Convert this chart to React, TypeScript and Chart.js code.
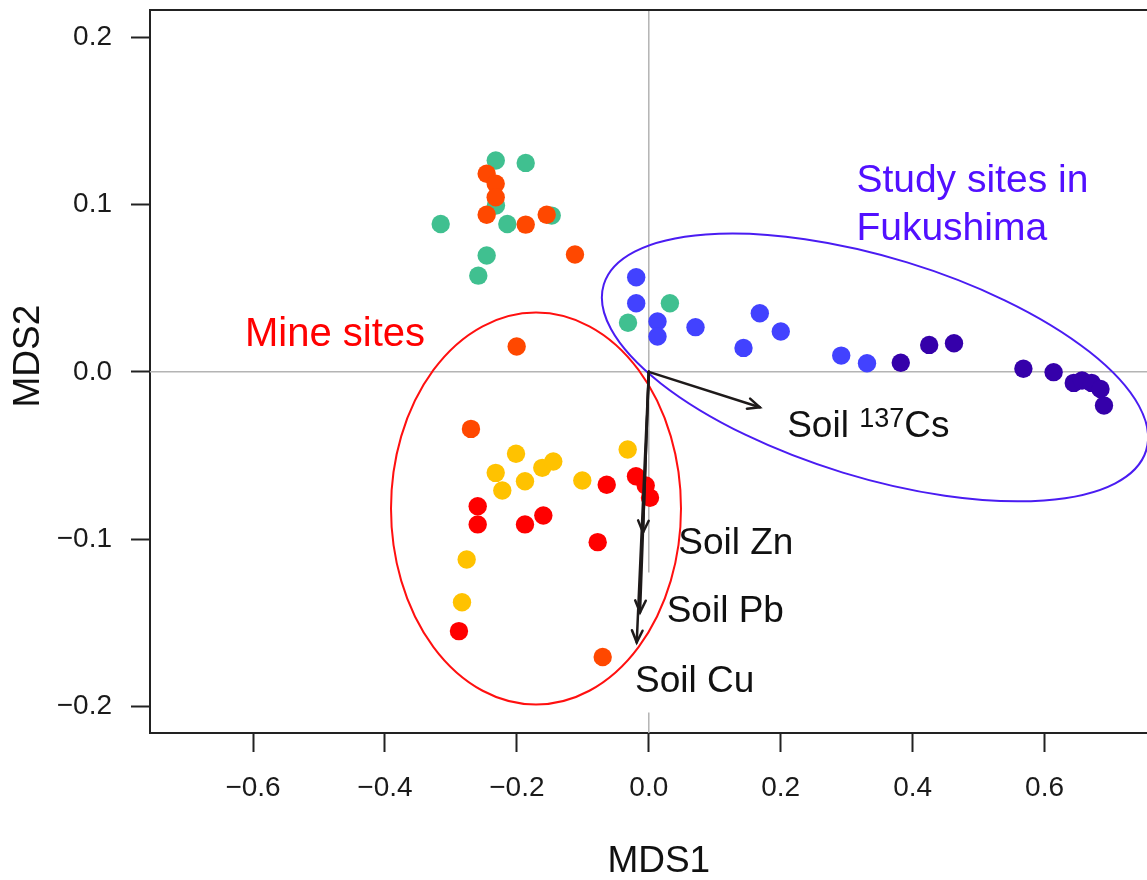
import React, { useEffect, useRef } from 'react';
import { Chart, registerables } from 'chart.js';

Chart.register(...registerables);

const FONT = '"Liberation Sans", Arial, Helvetica, sans-serif';

// Axis ticks
const xTicks = [-0.6, -0.4, -0.2, 0, 0.2, 0.4, 0.6];
const yTicks = [-0.2, -0.1, 0, 0.1, 0.2];

// Site groups (MDS1 / MDS2 scores)
const greenX = [-0.232, -0.1866, -0.3155, -0.2145, -0.1472, -0.2458, -0.2585, -0.2317, -0.0315, 0.032];
const greenY = [0.1263, 0.1249, 0.0884, 0.0884, 0.0934, 0.0695, 0.0575, 0.0994, 0.0293, 0.041];

const orangeX = [-0.2458, -0.2321, -0.2321, -0.2458, -0.1866, -0.1548, -0.1119, -0.2003, -0.2696, -0.0699];
const orangeY = [0.1184, 0.1124, 0.1043, 0.0939, 0.088, 0.0939, 0.0701, 0.0151, -0.0341, -0.1705];

const yellowX = [-0.2013, -0.2321, -0.2221, -0.1877, -0.1615, -0.1448, -0.1008, -0.032, -0.2761, -0.2832];
const yellowY = [-0.049, -0.0604, -0.0709, -0.0654, -0.0574, -0.0536, -0.065, -0.0464, -0.1122, -0.1377];

const redX = [-0.2594, -0.2594, -0.1877, -0.1599, -0.0638, -0.0194, -0.0047, 0.0018, -0.0775, -0.2878];
const redY = [-0.0803, -0.0912, -0.0912, -0.0859, -0.0675, -0.0624, -0.0679, -0.0753, -0.1018, -0.155];

const blueX = [-0.0191, -0.0191, 0.0132, 0.0132, 0.0708, 0.1683, 0.1436, 0.2001, 0.2917, 0.3308];
const blueY = [0.0565, 0.041, 0.0301, 0.0211, 0.0267, 0.035, 0.0143, 0.0241, 0.0097, 0.0051];

const purpleX = [0.382, 0.4251, 0.4627, 0.5679, 0.6137, 0.6443, 0.6568, 0.6713, 0.6848, 0.6901];
const purpleY = [0.0054, 0.0161, 0.0171, 0.0018, -0.0002, -0.0066, -0.0052, -0.0066, -0.0102, -0.0201];

// Environmental vectors (arrows from origin)
const vectorNames = ['Cs', 'Zn', 'Pb', 'Cu'];
const vectorX = [0.1683, -0.0088, -0.0133, -0.0183];
const vectorY = [-0.0212, -0.096, -0.1438, -0.1617];

const toPoints = (xs: number[], ys: number[]) => xs.map((x, i) => ({ x, y: ys[i] }));

const fmt = (v: number) => (v < -1e-9 ? '\u2212' : '') + Math.abs(v).toFixed(1);

// Annotation placement (data coordinates for anchors, pixels for shapes)
const ANN = {
  vGapTop: -0.12,
  vGapBottom: -0.2036,
  redEllipse: { cx: -0.171, cy: -0.0817, rx: 145, ry: 196, rot: 0 },
  blueEllipse: { cx: 0.3429, cy: 0.0026, rx: 283.6, ry: 109.9, rot: (17 * Math.PI) / 180 },
  labels: {
    Cs: { x: 0.2098, y: -0.0391 },
    Zn: { x: 0.0447, y: -0.1088 },
    Pb: { x: 0.0271, y: -0.1496 },
    Cu: { x: -0.0209, y: -0.1915 },
  } as Record<string, { x: number; y: number }>,
  mine: { x: -0.6122, y: 0.0157 },
  study1: { x: 0.3147, y: 0.1073 },
  study2: { x: 0.3147, y: 0.0789 },
};

const overlay = {
  id: 'overlay',
  beforeDatasetsDraw(chart: any) {
    const { ctx, chartArea: a, scales } = chart;
    const x = scales.x, y = scales.y;
    const x0 = x.getPixelForValue(0);
    const y0 = y.getPixelForValue(0);
    ctx.save();
    ctx.strokeStyle = '#b4b4b4';
    ctx.lineWidth = 1.5;
    ctx.beginPath();
    ctx.moveTo(a.left, y0);
    ctx.lineTo(a.right, y0);
    ctx.moveTo(x0, a.top);
    ctx.lineTo(x0, y.getPixelForValue(ANN.vGapTop));
    ctx.moveTo(x0, y.getPixelForValue(ANN.vGapBottom));
    ctx.lineTo(x0, a.bottom);
    ctx.stroke();
    ctx.restore();
  },
  afterDatasetsDraw(chart: any) {
    const { ctx, chartArea: a, scales } = chart;
    const x = scales.x, y = scales.y;
    const px = (v: number) => x.getPixelForValue(v);
    const py = (v: number) => y.getPixelForValue(v);
    ctx.save();

    // top border of the box
    ctx.strokeStyle = '#222';
    ctx.lineWidth = 2;
    ctx.beginPath();
    ctx.moveTo(a.left - 1, a.top);
    ctx.lineTo(a.right, a.top);
    ctx.stroke();

    // ellipses
    const drawEllipse = (e: any, color: string) => {
      ctx.strokeStyle = color;
      ctx.lineWidth = 2;
      ctx.beginPath();
      ctx.ellipse(px(e.cx), py(e.cy), e.rx, e.ry, e.rot, 0, Math.PI * 2);
      ctx.stroke();
    };
    drawEllipse(ANN.redEllipse, '#ff1010');
    drawEllipse(ANN.blueEllipse, '#4a1cf2');

    // arrows
    ctx.strokeStyle = '#1e1a1a';
    ctx.lineWidth = 2.5;
    ctx.lineCap = 'round';
    const ox = px(0), oy = py(0);
    vectorNames.forEach((_, i) => {
      const tx = px(vectorX[i]);
      const ty = py(vectorY[i]);
      ctx.beginPath();
      ctx.moveTo(ox, oy);
      ctx.lineTo(tx, ty);
      ctx.stroke();
      const ang = Math.atan2(ty - oy, tx - ox);
      const h = 13, sp = 0.42;
      ctx.beginPath();
      ctx.moveTo(tx - h * Math.cos(ang - sp), ty - h * Math.sin(ang - sp));
      ctx.lineTo(tx, ty);
      ctx.lineTo(tx - h * Math.cos(ang + sp), ty - h * Math.sin(ang + sp));
      ctx.stroke();
    });

    // vector labels
    ctx.fillStyle = '#111';
    ctx.textAlign = 'left';
    ctx.textBaseline = 'alphabetic';
    const big = `37px ${FONT}`;
    const sup = `27px ${FONT}`;
    vectorNames.forEach((n) => {
      const p = ANN.labels[n];
      const lx = px(p.x), ly = py(p.y);
      ctx.font = big;
      if (n === 'Cs') {
        const s1 = 'Soil ';
        ctx.fillText(s1, lx, ly);
        let cx = lx + ctx.measureText(s1).width;
        ctx.font = sup;
        ctx.fillText('137', cx, ly - 10.5);
        cx += ctx.measureText('137').width;
        ctx.font = big;
        ctx.fillText('Cs', cx, ly);
      } else {
        ctx.fillText('Soil ' + n, lx, ly);
      }
    });

    // group labels
    ctx.fillStyle = '#ff0000';
    ctx.font = `40px ${FONT}`;
    ctx.fillText('Mine sites', px(ANN.mine.x), py(ANN.mine.y));
    ctx.fillStyle = '#5210ff';
    ctx.font = `39px ${FONT}`;
    ctx.fillText('Study sites in', px(ANN.study1.x), py(ANN.study1.y));
    ctx.fillText('Fukushima', px(ANN.study2.x), py(ANN.study2.y));

    ctx.restore();
  },
};

export default function App() {
  const ref = useRef<HTMLCanvasElement>(null);

  useEffect(() => {
    const canvas = ref.current;
    if (!canvas) return;
    const mk = (label: string, xs: number[], ys: number[], color: string) => ({
      label,
      data: toPoints(xs, ys),
      backgroundColor: color,
      borderColor: color,
      borderWidth: 0,
      pointRadius: 9.2,
      pointHoverRadius: 9.2,
      showLine: false,
    });
    const chart = new Chart(canvas, {
      type: 'scatter',
      data: {
        datasets: [
          mk('red', redX, redY, '#ff0000'),
          mk('yellow', yellowX, yellowY, '#ffc200'),
          mk('orange', orangeX, orangeY, '#ff4800'),
          mk('green', greenX, greenY, '#40c090'),
          mk('purple', purpleX, purpleY, '#3500aa'),
          mk('blue', blueX, blueY, '#4242ff'),
        ],
      },
      options: {
        animation: false,
        responsive: false,
        devicePixelRatio: 1,
        events: [],
        layout: { autoPadding: false, padding: { left: 0, right: 0, top: 10, bottom: 0 } },
        plugins: {
          legend: { display: false },
          tooltip: { enabled: false },
        },
        scales: {
          x: {
            type: 'linear',
            min: -0.7562,
            max: 0.7553,
            afterBuildTicks: (s: any) => {
              s.ticks = xTicks.map((v) => ({ value: v }));
            },
            afterFit: (s: any) => {
              s.height = 147;
              s.paddingLeft = 0;
              s.paddingRight = 0;
            },
            ticks: {
              autoSkip: false,
              maxRotation: 0,
              minRotation: 0,
              padding: 19,
              color: '#1a1a1a',
              font: { family: FONT, size: 28 },
              callback: (v: any) => fmt(Number(v)),
            },
            grid: {
              drawOnChartArea: false,
              drawTicks: true,
              tickLength: 19,
              tickWidth: 2,
              tickColor: '#222',
            },
            border: { display: true, color: '#222', width: 2 },
            title: {
              display: true,
              text: '  MDS1',
              color: '#111',
              font: { family: FONT, size: 37, lineHeight: 1 },
              padding: { top: 0, bottom: 0 },
            },
          },
          y: {
            type: 'linear',
            min: -0.2159,
            max: 0.2163,
            afterBuildTicks: (s: any) => {
              s.ticks = yTicks.map((v) => ({ value: v }));
            },
            afterFit: (s: any) => {
              s.width = 150;
              s.paddingTop = 0;
              s.paddingBottom = 0;
            },
            ticks: {
              autoSkip: false,
              padding: 19,
              color: '#1a1a1a',
              font: { family: FONT, size: 28 },
              callback: (v: any) => fmt(Number(v)),
            },
            grid: {
              drawOnChartArea: false,
              drawTicks: true,
              tickLength: 19,
              tickWidth: 2,
              tickColor: '#222',
            },
            border: { display: true, color: '#222', width: 2 },
            title: {
              display: true,
              text: '   MDS2',
              color: '#111',
              font: { family: FONT, size: 37, lineHeight: 1 },
              padding: { top: 10, bottom: 0 },
            },
          },
        },
      },
      plugins: [overlay],
    } as any);
    return () => chart.destroy();
  }, []);

  return (
    <div style={{ position: 'absolute', left: 0, top: 0, width: 1147, height: 880, background: '#fff' }}>
      <canvas ref={ref} width={1147} height={880} style={{ display: 'block', width: 1147, height: 880 }} />
    </div>
  );
}
